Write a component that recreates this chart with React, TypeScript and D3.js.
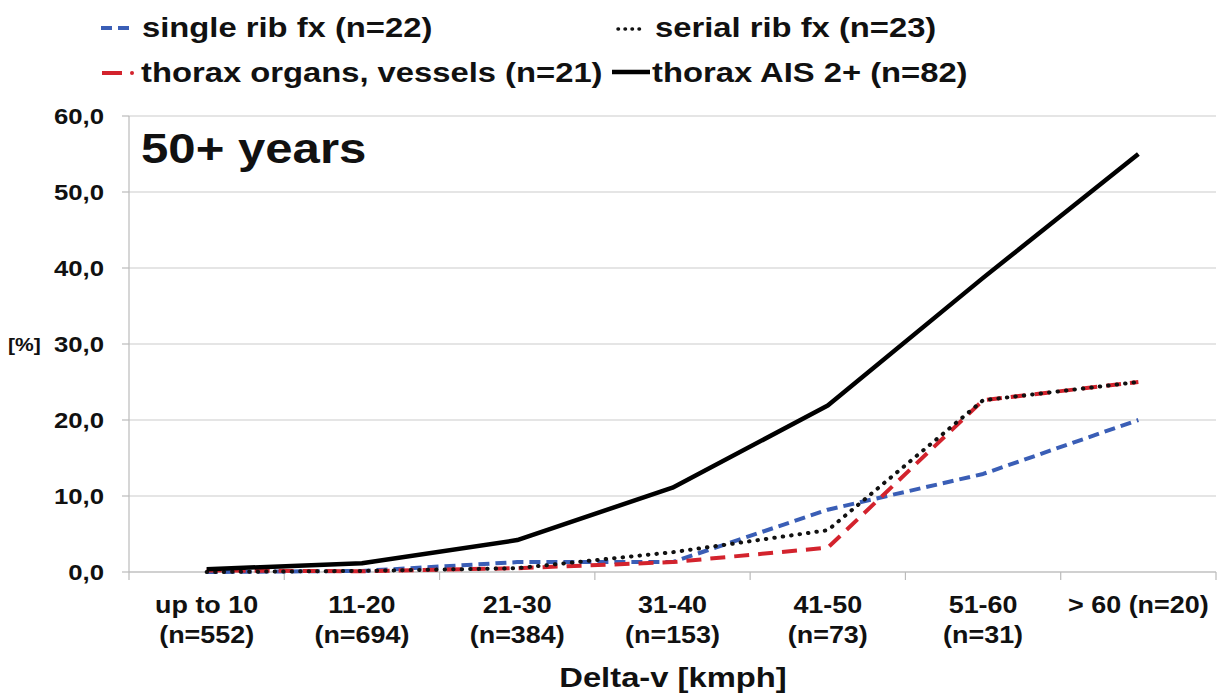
import React from "react";
import * as d3 from "d3";

// categories (delta-v bins) and sample sizes
const categories = ["up to 10", "11-20", "21-30", "31-40", "41-50", "51-60", "> 60"];
const groupN = ["(n=552)", "(n=694)", "(n=384)", "(n=153)", "(n=73)", "(n=31)", "(n=20)"];

// series values in %
const singleRib = [0.0, 0.14, 1.3, 1.3, 8.2, 12.9, 20.0];
const serialRib = [0.0, 0.14, 0.5, 2.6, 5.5, 22.6, 25.0];
const thoraxOrgans = [0.2, 0.1, 0.5, 1.3, 3.2, 22.6, 25.0];
const thoraxAIS = [0.36, 1.15, 4.2, 11.1, 21.9, 38.7, 55.0];

const yTicks = [0, 10, 20, 30, 40, 50, 60];

const W = 1219;
const H = 693;
const margin = { top: 116, right: 3, bottom: 121, left: 129 };
const FONT = "'Liberation Sans', Arial, Helvetica, sans-serif";
const SX = 1.17; // the source picture is a bit stretched sideways

type Series = { name: string; values: number[]; color: string; width: number; dash?: string; cap?: "round" | "butt" };

const series: Series[] = [
  { name: "single rib fx (n=22)", values: singleRib, color: "#3a5eb6", width: 4, dash: "11,6" },
  { name: "thorax organs, vessels (n=21)", values: thoraxOrgans, color: "#d3232d", width: 4, dash: "15,9" },
  { name: "serial rib fx (n=23)", values: serialRib, color: "#111111", width: 4, dash: "0.5,8", cap: "round" },
  { name: "thorax AIS 2+ (n=82)", values: thoraxAIS, color: "#000000", width: 4.5 },
];

// stretched text helper
const T = ({ x, y, size, anchor = "start", children }: { x: number; y: number; size: number; anchor?: string; children: React.ReactNode }) => (
  <text transform={`translate(${x},${y}) scale(${SX},1)`} fontSize={size} textAnchor={anchor} fill="#111">
    {children}
  </text>
);

export default function App() {
  const x = d3
    .scaleBand<string>()
    .domain(categories)
    .range([margin.left, W - margin.right]);
  const y = d3
    .scaleLinear()
    .domain([0, 60])
    .range([H - margin.bottom, margin.top]);

  const line = d3
    .line<number>()
    .x((_, i) => (x(categories[i]) ?? 0) + x.bandwidth() / 2)
    .y((d) => y(d));

  const boundaries = categories.map((c) => x(c) ?? 0).concat([W - margin.right]);
  const fmt = (v: number) => v.toFixed(1).replace(".", ",");

  return (
    <svg
      width={W}
      height={H}
      style={{ position: "absolute", left: 0, top: 0, background: "#fff" }}
      fontFamily={FONT}
      fontWeight="bold"
    >
      {/* gridlines */}
      {yTicks.map((t) => (
        <line key={"g" + t} x1={margin.left} x2={W - margin.right} y1={y(t)} y2={y(t)} stroke="#cccccc" strokeWidth={1.2} />
      ))}
      {/* y axis */}
      <line x1={margin.left} x2={margin.left} y1={y(60)} y2={y(0)} stroke="#bbbbbb" strokeWidth={1.2} />
      {yTicks.map((t) => (
        <g key={"yt" + t}>
          <line x1={margin.left - 7} x2={margin.left} y1={y(t)} y2={y(t)} stroke="#bbbbbb" strokeWidth={1.2} />
          <T x={104} y={y(t) + 8} size={22} anchor="end">{fmt(t)}</T>
        </g>
      ))}
      <T x={8} y={y(30) + 7} size={18}>[%]</T>

      {/* x axis */}
      <line x1={margin.left} x2={W - margin.right} y1={y(0)} y2={y(0)} stroke="#bbbbbb" strokeWidth={1.2} />
      {boundaries.map((b, i) => (
        <line key={"xt" + i} x1={b} x2={b} y1={y(0)} y2={y(0) + 8} stroke="#bbbbbb" strokeWidth={1.2} />
      ))}
      {categories.map((c, i) => {
        const cx = (x(c) ?? 0) + x.bandwidth() / 2;
        if (i === categories.length - 1) {
          return (
            <T key={"xl" + i} x={cx} y={613} size={23} anchor="middle">
              {c + " " + groupN[i]}
            </T>
          );
        }
        return (
          <g key={"xl" + i}>
            <T x={cx} y={613} size={23} anchor="middle">{c}</T>
            <T x={cx} y={643} size={23} anchor="middle">{groupN[i]}</T>
          </g>
        );
      })}
      <T x={673} y={687} size={28} anchor="middle">Delta-v [kmph]</T>

      {/* title */}
      <T x={141} y={163} size={42}>50+ years</T>

      {/* lines */}
      {series.map((s) => (
        <path
          key={s.name}
          d={line(s.values) ?? ""}
          fill="none"
          stroke={s.color}
          strokeWidth={s.width}
          strokeDasharray={s.dash}
          strokeLinecap={s.cap ?? "butt"}
          strokeLinejoin="round"
        />
      ))}

      {/* legend */}
      <line x1={101} x2={133} y1={28} y2={28} stroke="#3a5eb6" strokeWidth={4} strokeDasharray="11,6" />
      <T x={142} y={37} size={28}>single rib fx (n=22)</T>
      <line x1={618} x2={646} y1={29} y2={29} stroke="#111" strokeWidth={3.5} strokeDasharray="0.5,6.5" strokeLinecap="round" />
      <T x={655} y={37} size={28}>serial rib fx (n=23)</T>
      <line x1={102} x2={122} y1={73} y2={73} stroke="#d3232d" strokeWidth={4} />
      <circle cx={132} cy={73} r={2} fill="#d3232d" />
      <T x={141} y={82} size={28}>thorax organs, vessels (n=21)</T>
      <line x1={612} x2={650} y1={72} y2={72} stroke="#000" strokeWidth={4.5} />
      <T x={652} y={82} size={28}>thorax AIS 2+ (n=82)</T>
    </svg>
  );
}
